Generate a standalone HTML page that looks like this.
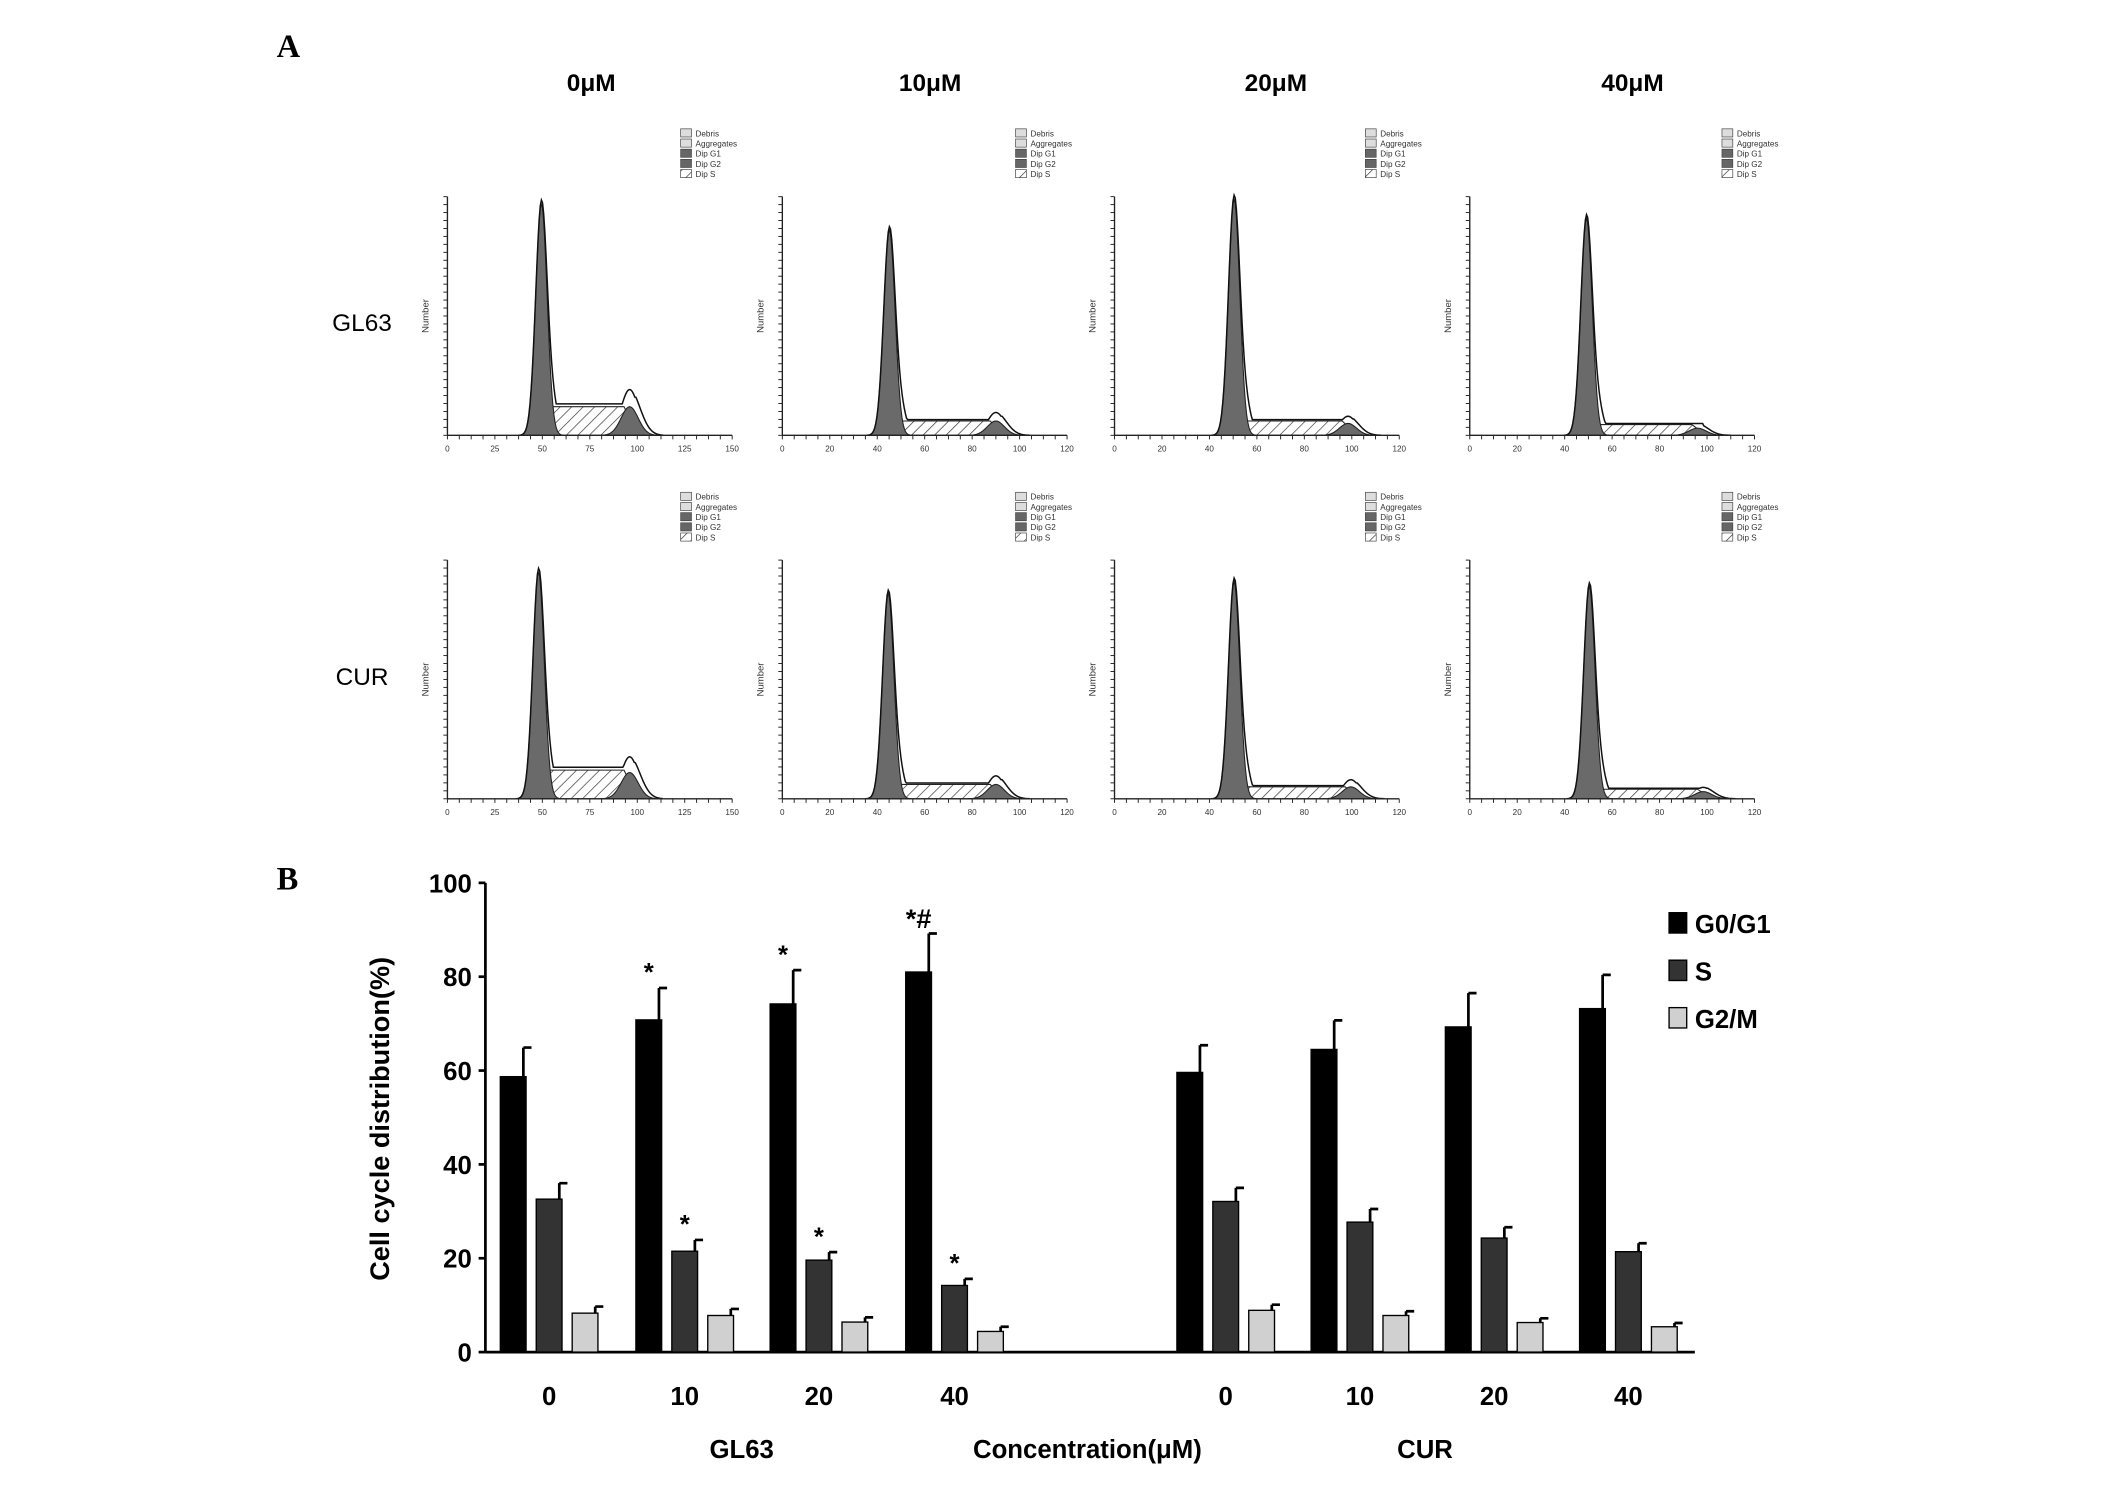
<!DOCTYPE html>
<html><head><meta charset="utf-8">
<style>
html,body{margin:0;padding:0;background:#fff;}
svg{display:block;}
text{font-family:"Liberation Sans",sans-serif;}
</style></head>
<body>
<svg id="fig" width="2126" height="1485" viewBox="0 0 1568 1095" preserveAspectRatio="none" xmlns="http://www.w3.org/2000/svg">
<defs>
<pattern id="hatch" patternUnits="userSpaceOnUse" width="6" height="6" patternTransform="rotate(45)">
<rect width="6" height="6" fill="#fff"/><line x1="0" y1="0" x2="0" y2="6" stroke="#333" stroke-width="1"/>
</pattern>
</defs>
<text x="204" y="42" style="font-family:'Liberation Serif',serif" font-weight="bold" font-size="24">A</text>
<text x="204" y="656" style="font-family:'Liberation Serif',serif" font-weight="bold" font-size="24">B</text>
<g id="panelA"></g>
<g id="panelB"></g>
</svg>
<script>
const NS="http://www.w3.org/2000/svg";
function mk(tag,attrs,parent){const e=document.createElementNS(NS,tag);for(const k in attrs)e.setAttribute(k,attrs[k]);parent.appendChild(e);return e;}

/* ---------- Panel A: histograms ---------- */
const colTitles=["0μM","10μM","20μM","40μM"];
const rowTitles=["GL63","CUR"];
const plotOrigins=[330,577,822,1084];
const rowBase=[321,589];
const g1Pos=[[0.33,0.376,0.42,0.41],[0.32,0.372,0.42,0.42]];
const g1Peak=[[0.97,0.86,0.99,0.91],[0.95,0.86,0.91,0.89]];
const sLevel=[[0.12,0.06,0.06,0.045],[0.12,0.06,0.05,0.04]];
const g2Pos=[[0.64,0.75,0.82,0.8],[0.64,0.75,0.83,0.82]];
const g2Peak=[[0.12,0.06,0.05,0.03],[0.11,0.06,0.05,0.03]];
const xMax=[150,120,120,120];
const A=document.getElementById('panelA');
colTitles.forEach((t,i)=>{
  const e=mk('text',{x:[436,686,941,1204][i],y:67,'text-anchor':'middle','font-weight':'bold','font-size':18},A);
  e.textContent=t;
  
  
});
rowTitles.forEach((t,r)=>{
  const e=mk('text',{x:267,y:[244,505][r],'text-anchor':'middle','font-size':18},A);
  e.textContent=t;
  
  
});
const W=210,H=176;
for(let r=0;r<2;r++)for(let c=0;c<4;c++){
  const ox=plotOrigins[c], by=rowBase[r];
  const g=mk('g',{},A);
  
  
  const X=f=>ox+f*W, Y=f=>by-f*H;
  const p1=g1Pos[r][c],h1=g1Peak[r][c],s=sLevel[r][c],p2=g2Pos[r][c],h2=g2Peak[r][c];
  const sd1=0.02,sd2=0.03;
  const gauss=(x,m,sd,h)=>h*Math.exp(-((x-m)*(x-m))/(2*sd*sd));
  const sStart=p1+0.03,sEnd=p2-0.02;
  mk('path',{d:`M${X(p1-0.02)},${by} L${X(sStart)},${Y(s)} L${X(sEnd)},${Y(s)} L${X(p2+0.03)},${by} Z`,fill:'url(#hatch)',stroke:'#222','stroke-width':0.8},g);
  let d=`M${X(p1-0.08)},${by}`;for(let f=p1-0.08;f<=p1+0.08;f+=0.004)d+=` L${X(f)},${Y(gauss(f,p1,sd1,h1))}`;d+=` L${X(p1+0.08)},${by} Z`;
  mk('path',{d,fill:'#6a6a6a',stroke:'#222','stroke-width':0.8},g);
  d=`M${X(p2-0.1)},${by}`;for(let f=p2-0.1;f<=p2+0.1;f+=0.005)d+=` L${X(f)},${Y(gauss(f,p2,sd2,h2))}`;d+=` L${X(p2+0.1)},${by} Z`;
  mk('path',{d,fill:'#6a6a6a',stroke:'#222','stroke-width':0.8},g);
  d='';let first=true;
  for(let f=p1-0.08;f<=p2+0.12;f+=0.004){
    let v=gauss(f,p1,sd1,h1)+gauss(f,p1+0.04,0.02,h1*0.12)+gauss(f,p2,sd2,h2*1.6);
    if(f>p1&&f<p2+0.02)v=Math.max(v,s*1.1);
    if(f>p2+0.02)v=Math.max(v,gauss(f,p2,sd2*1.2,h2*1.6));
    d+=(first?'M':' L')+X(f)+','+Y(v);first=false;
  }
  mk('path',{d,fill:'none',stroke:'#111','stroke-width':1.1},g);
  mk('line',{x1:ox,y1:by,x2:ox+W,y2:by,stroke:'#222','stroke-width':1},g);
  mk('line',{x1:ox,y1:by,x2:ox,y2:by-H,stroke:'#222','stroke-width':1},g);
  for(let k=0;k<=24;k++){mk('line',{x1:ox+k*W/24,y1:by,x2:ox+k*W/24,y2:by+3,stroke:'#222','stroke-width':0.7},g);}
  for(let k=0;k<=30;k++){mk('line',{x1:ox,y1:by-k*H/30,x2:ox-3,y2:by-k*H/30,stroke:'#222','stroke-width':0.7},g);}
  const step=xMax[c]/6;
  for(let k=0;k<=6;k++){const t=mk('text',{x:ox+k*W/6,y:by+12,'text-anchor':'middle','font-size':6,fill:'#333'},g);t.textContent=Math.round(k*step);}
  const nl=mk('text',{x:ox-14,y:by-H/2,'text-anchor':'middle','font-size':7,fill:'#333',transform:`rotate(-90 ${ox-14} ${by-H/2})`},g);nl.textContent='Number';
  const lx=plotOrigins[c]+172+(c==2?13:0)+(c==3?14:0), ly=by-226;
  ['Debris','Aggregates','Dip G1','Dip G2','Dip S'].forEach((t,k)=>{
    mk('rect',{x:lx,y:ly+k*7.5,width:8,height:6,fill:k<2?'#ddd':(k==4?'url(#hatch)':'#666'),stroke:'#444','stroke-width':0.5},g);
    const tt=mk('text',{x:lx+11,y:ly+k*7.5+5.5,'font-size':6,fill:'#333'},g);tt.textContent=t;
  });
}

/* ---------- Panel B: bar chart ---------- */
const categories=["0","10","20","40","0","10","20","40"];
const seriesNames=["G0/G1","S","G2/M"];
const g0g1=[58.7,70.8,74.2,81.0,59.6,64.5,69.3,73.2];
const g0g1Err=[6.2,6.8,7.2,8.2,5.8,6.2,7.2,7.2];
const sPhase=[32.6,21.5,19.6,14.2,32.1,27.7,24.3,21.4];
const sErr=[3.4,2.4,1.7,1.4,2.9,2.8,2.3,1.8];
const g2m=[8.3,7.8,6.4,4.4,8.9,7.8,6.3,5.4];
const g2mErr=[1.4,1.4,1.0,1.0,1.2,0.9,0.9,0.8];
const yTicks=[0,20,40,60,80,100];
const sigMarks=[[ "", "*","*","*#","","","",""],["","*","*","*","","","",""],["","","","","","","",""]];

const B=document.getElementById('panelB');
const y0=997,y100=651,axX=358;
const yS=v=>y0-(v/100)*(y0-y100);
const catCenter=[405,505,604,704,904,1003,1102,1201];
const xS=(i,s)=>catCenter[i]+(s-1)*26.5;
const colors=["#000","#333","#d0d0d0"];
const series=[g0g1,sPhase,g2m], errs=[g0g1Err,sErr,g2mErr];

mk('line',{x1:axX,y1:y100,x2:axX,y2:y0,stroke:'#000','stroke-width':2},B);
mk('line',{x1:axX,y1:y0,x2:1250,y2:y0,stroke:'#000','stroke-width':2},B);
yTicks.forEach(v=>{
  const l=mk('line',{x1:axX-5,y1:yS(v),x2:axX,y2:yS(v),stroke:'#000','stroke-width':2},B);
  
  
  const t=mk('text',{x:axX-10,y:yS(v)+7,'text-anchor':'end','font-size':19,'font-weight':'bold'},B);
  t.textContent=v;
  
  
});
const yt=mk('text',{x:287,y:825,'text-anchor':'middle','font-size':20,'font-weight':'bold',transform:'rotate(-90 287 825)'},B);
yt.textContent='Cell cycle distribution(%)';



series.forEach((vals,s)=>{
  vals.forEach((v,i)=>{
    const cx=xS(i,s),bw=19;
    const r=mk('rect',{x:cx-bw/2,y:yS(v),width:bw,height:y0-yS(v),fill:colors[s],stroke:'#000','stroke-width':1},B);
    
    
    const top=yS(v+errs[s][i]);
    const e=mk('path',{d:`M${cx+bw/2-2},${yS(v)} L${cx+bw/2-2},${top} M${cx+bw/2-2},${top} L${cx+bw/2+4},${top}`,stroke:'#000','stroke-width':2,fill:'none'},B);
    
    
    const m=sigMarks[s][i];
    if(m){
      const t=mk('text',{x:cx,y:top-(m==='*#'?4:5),'text-anchor':'middle','font-size':m==='*#'?20:19,'font-weight':'bold'},B);
      t.textContent=m;
      
      
    }
  });
});
categories.forEach((c,i)=>{
  const t=mk('text',{x:catCenter[i],y:1036,'text-anchor':'middle','font-size':19,'font-weight':'bold'},B);
  t.textContent=c;
  
  
});
[["GL63",547,'group-label-gl63'],["Concentration(μM)",802,'x-axis-title'],["CUR",1051,'group-label-cur']].forEach(([t,x,n])=>{
  const e=mk('text',{x:x,y:1075,'text-anchor':'middle','font-size':19,'font-weight':'bold'},B);
  e.textContent=t;
  
  
});
seriesNames.forEach((n,s)=>{
  const ly=[681,716,751][s];
  const r=mk('rect',{x:1231,y:ly-8,width:13,height:15,fill:colors[s],stroke:'#000','stroke-width':1},B);
  
  
  const t=mk('text',{x:1250,y:ly+7,'font-size':19,'font-weight':'bold'},B);
  t.textContent=n;
  
  
});
</script>
</body></html>
